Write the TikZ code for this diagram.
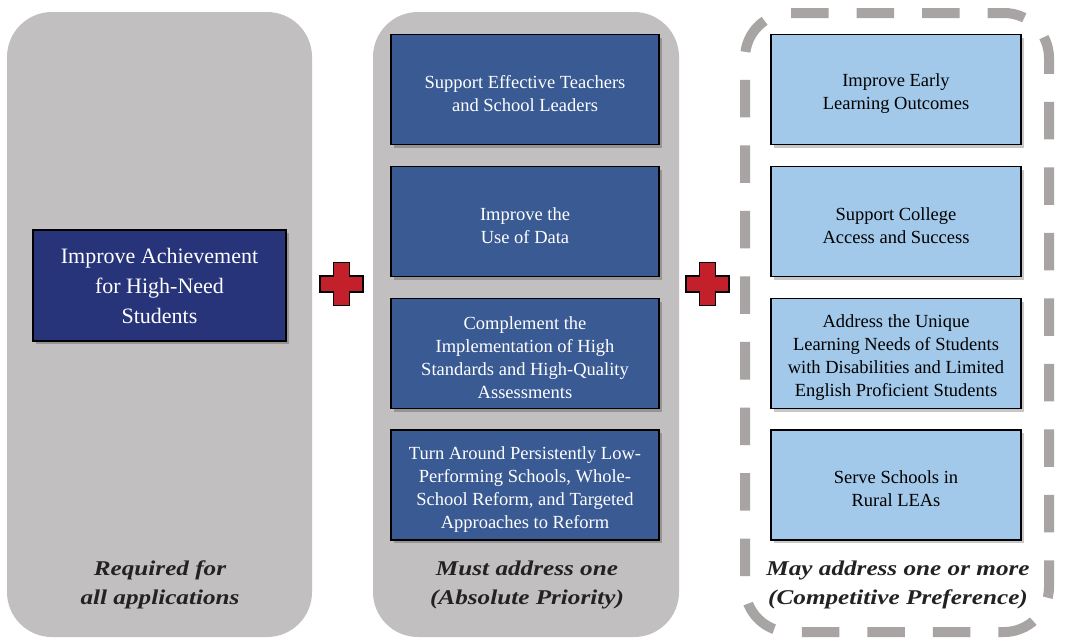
\documentclass[tikz,border=0pt]{standalone}
\usepackage{fontspec}
\setmainfont{Liberation Serif}
\newfontfamily\boxfont{Liberation Serif}
\newfontfamily\labfont[FakeStretch=1.2]{Liberation Serif}
\usetikzlibrary{shadows}
\definecolor{panelgray}{HTML}{C1BFC0}
\definecolor{navy}{HTML}{28347A}
\definecolor{midblue}{HTML}{3A5A93}
\definecolor{lightblue}{HTML}{A2C9EA}
\definecolor{dashgray}{HTML}{A8A4A4}
\definecolor{plusred}{HTML}{C4202B}
\definecolor{labgray}{HTML}{222222}
\newcommand{\toppad}{\rule{0pt}{21pt}}
\begin{document}
\begin{tikzpicture}[x=1pt,y=-1pt,
  panel/.style={fill=panelgray,draw=none,rounded corners=45pt},
  boxshadow/.style={drop shadow={shadow xshift=3pt,shadow yshift=-3pt,fill=black,opacity=0.22}},
  navybox/.style={draw=black,line width=1.3pt,fill=navy,text=white,align=center,
    minimum width=253pt,minimum height=111pt,inner sep=0pt,
    font=\boxfont\fontsize{22}{30}\selectfont,boxshadow},
  smallbox/.style={draw=black,line width=1.3pt,align=center,
    minimum height=110pt,inner sep=0pt,
    font=\boxfont\fontsize{18.5}{23}\selectfont,boxshadow},
  midbox/.style={smallbox,fill=midblue,text=white,minimum width=268pt},
  lightbox/.style={smallbox,fill=lightblue,text=black,minimum width=250pt},
  lab/.style={font=\labfont\bfseries\itshape\fontsize{21}{28.5}\selectfont,text=labgray,align=center},
  dashframe/.style={draw=dashgray,line width=10pt,rounded corners=45pt,
    dash pattern=on 37.5pt off 28pt,dash phase=3pt},
  pluspic/.pic={\draw[fill=plusred,draw=black,line width=1.3pt]
    (-8,-21.5) -- (8,-21.5) -- (8,-8) -- (21.5,-8) -- (21.5,8) -- (8,8) -- (8,21.5)
    -- (-8,21.5) -- (-8,8) -- (-21.5,8) -- (-21.5,-8) -- (-8,-8) -- cycle;}
]
\useasboundingbox (0,0) rectangle (1068,638);
\fill[white] (0,0) rectangle (1068,638);

% panels
\fill[panel] (7,12) rectangle (312,637);
\fill[panel] (373,12) rectangle (679,637);
\draw[dashframe] (745,300) -- (745,632) -- (1049,632) -- (1049,13) -- (745,13) -- cycle;

% left column
\node[navybox] (req) at (159.5,285.5) {Improve Achievement\\for High-Need\\Students};
\node[lab] (reqlab) at (160,585) {Required for\\all applications};

% middle column
\node[midbox] (m1) at (525,89.5) {\toppad Support Effective Teachers\\and School Leaders};
\node[midbox] (m2) at (525,221.5) {\toppad Improve the\\Use of Data};
\node[midbox] (m3) at (525,353.5) {\toppad Complement the\\Implementation of High\\Standards and High-Quality\\Assessments};
\node[midbox] (m4) at (525,485) {\toppad Turn Around Persistently Low-\\Performing Schools, Whole-\\School Reform, and Targeted\\Approaches to Reform};
\node[lab] (midlab) at (527,585) {Must address one\\(Absolute Priority)};

% right column
\node[lightbox] (r1) at (896,89.5) {\toppad Improve Early\\Learning Outcomes};
\node[lightbox] (r2) at (896,221.5) {\toppad Support College\\Access and Success};
\node[lightbox] (r3) at (896,353.5) {\toppad Address the Unique\\Learning Needs of Students\\with Disabilities and Limited\\English Proficient Students};
\node[lightbox] (r4) at (896,485) {\toppad Serve Schools in\\Rural LEAs};
\node[lab] (rlab) at (898,585) {May address one or more\\(Competitive Preference)};

% plus signs
\pic at (341.5,284) {pluspic};
\pic at (707.5,284) {pluspic};
\end{tikzpicture}
\end{document}
